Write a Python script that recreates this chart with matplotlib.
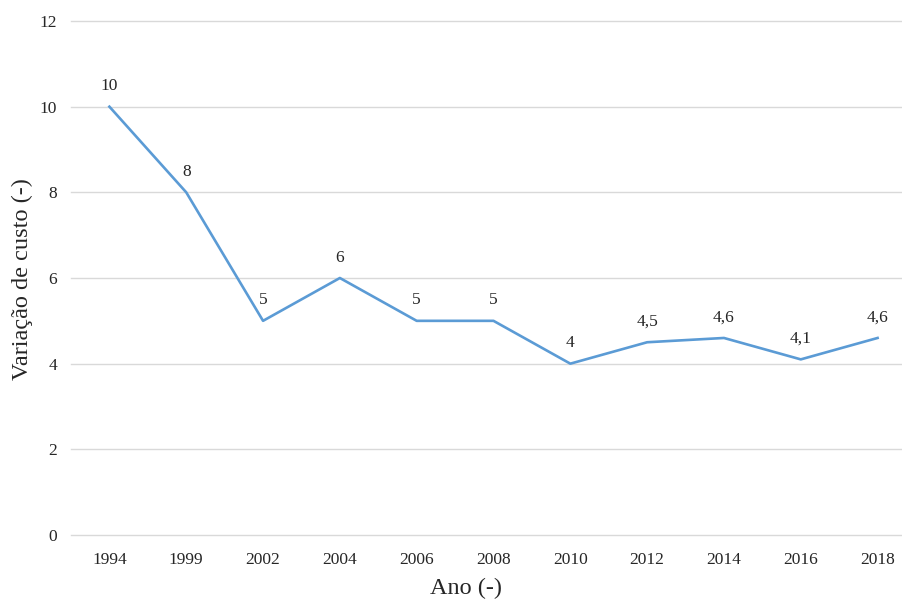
import matplotlib
matplotlib.use("Agg")
import matplotlib.pyplot as plt

anos = ["1994", "1999", "2002", "2004", "2006", "2008", "2010", "2012", "2014", "2016", "2018"]
variacao = [10, 8, 5, 6, 5, 5, 4, 4.5, 4.6, 4.1, 4.6]
rotulos = ["10", "8", "5", "6", "5", "5", "4", "4,5", "4,6", "4,1", "4,6"]
yticks = [0, 2, 4, 6, 8, 10, 12]

plt.rcParams["font.family"] = ["Liberation Serif", "DejaVu Serif"]

W, H = 903, 601
fig = plt.figure(figsize=(W / 100, H / 100), dpi=100)
left, right = 71, 916
top, bottom = 21, 535
ax = fig.add_axes([left / W, 1 - bottom / H, (right - left) / W, (bottom - top) / H])

x = list(range(len(anos)))
ax.plot(x, variacao, color="#5B9BD5", lw=1.9, solid_joinstyle="round", zorder=3)
for xi, v, r in zip(x, variacao, rotulos):
    ax.annotate(r, (xi, v), xytext=(0, 9), textcoords="offset points",
                ha="center", va="bottom", fontsize=12.5, color="#262626")

ax.set_xlim(-0.5, len(anos) - 0.5)
ax.set_ylim(0, 12)
ax.set_yticks(yticks)
ax.set_yticklabels([str(t) for t in yticks])
ax.set_xticks(x)
ax.set_xticklabels(anos)
ax.tick_params(axis="both", length=0, labelsize=12.5, colors="#262626")
ax.tick_params(axis="x", pad=12)
ax.tick_params(axis="y", pad=10)
# horizontal gridlines, unclipped so the zero line shows in full
for t in yticks:
    ax.axhline(t, color="#D9D9D9", lw=1.0, clip_on=False, zorder=1)
for s in ["top", "right", "left", "bottom"]:
    ax.spines[s].set_visible(False)

fig.text(466 / W, 1 - 588 / H, "Ano (-)", fontsize=17.5, color="#262626",
         ha="center", va="center")
fig.text(22 / W, 1 - 279 / H, "Variação de custo (-)", fontsize=17.5,
         color="#262626", ha="center", va="center", rotation=90)

fig.savefig("out.png", dpi=100, facecolor="white")
